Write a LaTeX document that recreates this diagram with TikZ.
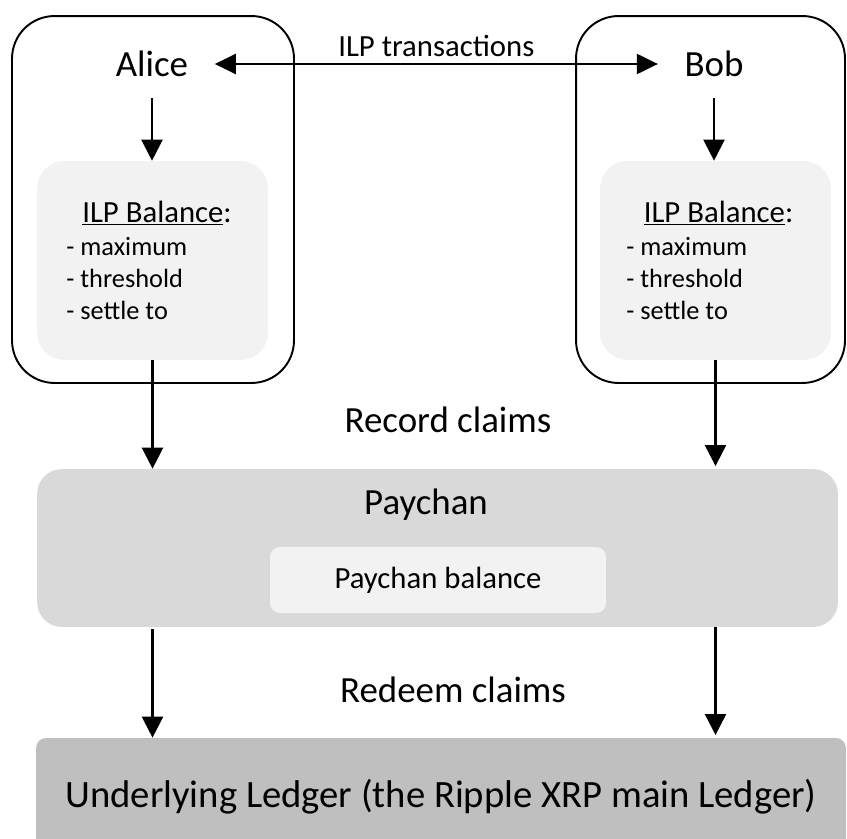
\documentclass[tikz,border=0pt]{standalone}
\usepackage{fontspec}
\setmainfont{Carlito}
\usetikzlibrary{arrows.meta}

\definecolor{balgray}{HTML}{F2F2F2}
\definecolor{changray}{HTML}{D9D9D9}
\definecolor{ledgergray}{HTML}{BFBFBF}

\begin{document}
\begin{tikzpicture}[x=0.02cm,y=-0.02cm,
  tip/.style={Triangle[length=0.42cm,width=0.42cm]},
  arr/.style={line width=1.3pt,-{Triangle[length=0.42cm,width=0.42cm]}},
  party/.style={draw,line width=1.1pt,rounded corners=0.85cm,minimum height=7.34cm},
  balbox/.style={fill=balgray,rounded corners=0.55cm,minimum width=4.62cm,minimum height=3.98cm},
  who/.style={font=\fontsize{21}{25}\selectfont,inner xsep=15pt,inner ysep=12pt},
  big/.style={font=\fontsize{21}{25}\selectfont},
  mid/.style={font=\fontsize{17.5}{21}\selectfont},
  small/.style={font=\fontsize{15}{18}\selectfont,anchor=base west,inner sep=0pt}]
\useasboundingbox (0,0) rectangle (847,838);

% the two parties
\node[party,minimum width=5.64cm] (alicebox) at (153,199.5) {};
\node[party,minimum width=5.38cm] (bobbox) at (710.5,199.5) {};
\node[balbox] (alicebal) at (152.5,260.5) {};
\node[balbox] (bobbal) at (715.5,260.5) {};

\node[who] (alice) at (152,64) {Alice};
\node[who] (bob) at (714,64) {Bob};
\draw[line width=1.3pt,{Triangle[length=0.42cm,width=0.4cm]}-{Triangle[length=0.42cm,width=0.4cm]}]
  (alice.east) -- (bob.west) node[midway,above,mid] {ILP transactions};

% balances
\node[mid,anchor=base] (alicehead) at (157,222) {\underline{ILP Balance}:};
\node[mid,anchor=base] (bobhead) at (718.5,222) {\underline{ILP Balance}:};
\foreach \txt [count=\i] in {maximum,threshold,settle to}{
  \node[small] (aliceitem\i) at (66,223+32*\i) {- \txt};
  \node[small] (bobitem\i) at (626,223+32*\i) {- \txt};
}

\draw[arr] (alice.south) -- (alice.south |- alicebal.north);
\draw[arr] (bob.south) -- (bob.south |- bobbal.north);

% paychan
\node[fill=changray,rounded corners=0.5cm,minimum width=16.02cm,minimum height=3.16cm] (paychan) at (437.5,548) {};
\node[big] (paychanlbl) at (426,505) {Paychan};
\node[fill=balgray,rounded corners=0.2cm,minimum width=6.72cm,minimum height=1.32cm,mid] (chanbal) at (438,580) {Paychan balance};

\node[big] (record) at (448,420) {Record claims};
\draw[arr] (alicebal.south) -- (alicebal.south |- paychan.north);
\draw[arr] (bobbal.south) -- ([yshift=1.5pt]bobbal.south |- paychan.north);

% ledger
\node[fill=ledgergray,rounded corners=0.2cm,minimum width=16.2cm,minimum height=2.36cm,font=\fontsize{22}{26}\selectfont] (ledger) at (441,797) {Underlying Ledger (the Ripple XRP main Ledger)};

\node[big] (redeem) at (453,690) {Redeem claims};
\draw[arr] ([yshift=-1pt]paychan.south -| alicebal.south) -- (ledger.north -| alicebal.south);
\draw[arr] (paychan.south -| bobbal.south) -- ([yshift=1.5pt]ledger.north -| bobbal.south);
\end{tikzpicture}
\end{document}
